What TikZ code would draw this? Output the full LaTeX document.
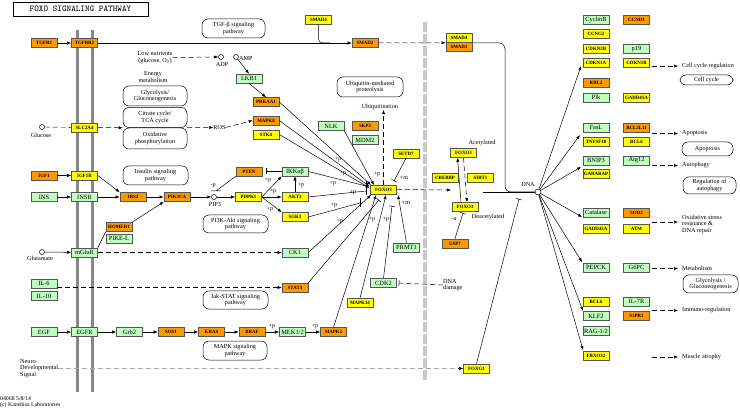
\documentclass[tikz,border=0pt]{standalone}
\usepackage{fontspec}
\setmainfont{Liberation Serif}
\usetikzlibrary{arrows.meta,backgrounds}
\definecolor{kgreen}{RGB}{191,255,191}
\definecolor{kyellow}{RGB}{255,255,0}
\definecolor{korange}{RGB}{255,153,0}
\definecolor{kborder}{RGB}{85,85,85}
\definecolor{memb}{RGB}{135,135,135}
\definecolor{nuc}{RGB}{200,200,200}
\definecolor{ndash}{RGB}{165,165,165}
\begin{document}
\begin{tikzpicture}[x=1pt,y=-1pt,
  gene/.style={draw=kborder,line width=0.6pt,minimum width=26pt,minimum height=9pt,inner sep=0pt},
  gy/.style={gene,fill=kyellow,font=\fontsize{4.9}{5.5}\selectfont\bfseries},
  go/.style={gene,fill=korange,font=\fontsize{4.9}{5.5}\selectfont\bfseries},
  gg/.style={gene,fill=kgreen,font=\fontsize{6.4}{6.6}\selectfont},
  pw/.style={draw,rounded corners=6pt,line width=0.5pt,align=center,inner sep=0pt,font=\fontsize{6.2}{6.4}\selectfont},
  lbl/.style={align=center,inner sep=0pt,font=\fontsize{6.2}{6.4}\selectfont},
  lbll/.style={align=left,inner sep=0pt,anchor=west,font=\fontsize{6.2}{6.4}\selectfont},
  pp/.style={inner sep=0pt,font=\fontsize{6}{6}\selectfont},
  ln/.style={line width=0.5pt},
  ar/.style={ln,-{Latex[length=4pt,width=3.2pt]}},
  inh/.style={ln,-{Bar[width=6pt]}},
  da/.style={dash pattern=on 5pt off 3pt},
  cpd/.style={circle,draw,line width=0.5pt,minimum size=5pt,inner sep=0pt,fill=white}
]
\useasboundingbox (0,0) rectangle (740,409);

% title
\node[draw,line width=0.7pt,minimum width=135pt,minimum height=14pt,inner sep=0pt,font=\ttfamily\fontsize{8.8}{9}\selectfont] (title) at (80.5,9) {FOXO SIGNALING PATHWAY};

% pathway boxes
\node[pw,minimum width=63pt,minimum height=19pt] (tgfbpw) at (233.5,28.5) {TGF-β signaling\\pathway};
\node[pw,minimum width=66pt,minimum height=20pt] (ubpw) at (370,87) {Ubiquitin-mediated\\proteolysis};
\node[pw,minimum width=64pt,minimum height=20pt] (glypw) at (155,96) {Glycolysis/\\Gluconeogenesis};
\node[pw,minimum width=64pt,minimum height=20pt] (tca) at (155,117.5) {Citrate cycle/\\TCA cycle};
\node[pw,minimum width=64pt,minimum height=21pt] (oxphos) at (155,138.5) {Oxidative\\phosphorylation};
\node[pw,minimum width=65pt,minimum height=19pt] (inspw) at (155.5,175.5) {Insulin signaling\\pathway};
\node[pw,minimum width=65pt,minimum height=18pt] (pi3kpw) at (235.5,224) {PI3K-Akt signaling\\pathway};
\node[pw,minimum width=65pt,minimum height=18pt] (jakpw) at (235.5,300) {Jak-STAT signaling\\pathway};
\node[pw,minimum width=64pt,minimum height=19pt] (mapkpw) at (235,350.5) {MAPK signaling\\pathway};
\node[pw,minimum width=53pt,minimum height=10pt] (ccpw) at (706.5,80) {Cell cycle};
\node[pw,minimum width=51pt,minimum height=14pt] (apopw) at (707.5,149) {Apoptosis};
\node[pw,minimum width=53pt,minimum height=17pt] (autpw) at (709.5,185.5) {Regulation of\\autophagy};
\node[pw,minimum width=55pt,minimum height=18pt] (glypw2) at (710.5,284) {Glycolysis /\\Gluconeogenesis};

% left / membrane genes
\node[go] (tgfb2) at (44,43) {TGFB2};
\node[go] (tgfbr2) at (84.5,43) {TGFBR2};
\node[gy] (slc2a4) at (84.5,127.5) {SLC2A4};
\node[go] (igf1) at (44,175.5) {IGF1};
\node[gy] (igf1r) at (84.5,175.5) {IGF1R};
\node[gg] (ins) at (44,197) {INS};
\node[gg] (insr) at (84.5,197) {INSR};
\node[go] (irs2) at (133,197) {IRS2};
\node[go] (pik3ca) at (177,197) {PIK3CA};
\node[go] (homer1) at (119,227) {HOMER1};
\node[gg] (pikel) at (119,238.5) {PIKE-L};
\node[gg] (mglur) at (84.5,252.5) {mGluR};
\node[gg] (il6) at (44,283.5) {IL-6};
\node[gg] (il10) at (44,296) {IL-10};
\node[gg] (egf) at (44,332) {EGF};
\node[gg] (egfr) at (84.5,332) {EGFR};
\node[gg] (grb2) at (129.5,332) {Grb2};
\node[go] (sos1) at (171,332) {SOS1};
\node[go] (kras) at (211.5,332) {KRAS};
\node[go] (braf) at (252,332) {BRAF};
\node[gg] (mek) at (292.5,332) {MEK1/2};
\node[go] (mapk1) at (333.5,332) {MAPK1};
\node[go] (stat3) at (295,287.5) {STAT3};
\node[gy] (mapk14) at (360,303) {MAPK14};
\node[gg] (cdk2) at (383.5,283) {CDK2};
\node[gg] (ck1) at (295,252.5) {CK1};
\node[gy] (sgk3) at (295,217) {SGK3};
\node[gy] (akt3) at (295,197) {AKT3};
\node[gg] (ikk) at (295,171.5) {IKKαβ};
\node[gy] (pdpk1) at (248.5,197) {PDPK1};
\node[go] (pten) at (249,171.5) {PTEN};
\node[gg] (lkb1) at (249,78.5) {LKB1};
\node[go] (prkaa1) at (266,102) {PRKAA1};
\node[go] (mapk8) at (266,120.5) {MAPK8};
\node[gy] (stk4) at (266,134.5) {STK4};
\node[gg] (nlk) at (331,126) {NLK};
\node[go] (skp2) at (365,126) {SKP2};
\node[gg] (mdm2) at (365,140) {MDM2};
\node[gy] (smad4a) at (318.5,19.5) {SMAD4};
\node[go] (smad2a) at (365,43) {SMAD2};
\node[gy] (smad4b) at (459,38) {SMAD4};
\node[go] (smad2b) at (459,47) {SMAD2};
\node[gy] (foxo) at (383.5,189.5) {FOXO3};
\node[gy] (setd7) at (406,153.5) {SETD7};
\node[gg] (prmt1) at (406.5,247.5) {PRMT1};
\node[gy] (foxoa) at (463.5,153) {FOXO3};
\node[gy] (crebbp) at (445,177.5) {CREBBP};
\node[gy] (sirt1) at (480.5,177.5) {SIRT1};
\node[gy] (foxod) at (465,207) {FOXO3};
\node[go] (usp7) at (455,243.5) {USP7};
\node[gy] (foxg1) at (476.5,368.5) {FOXG1};

% right target genes
\node[gg] (cyclinb) at (596,19.5) {CyclinB};
\node[go] (ccnd1) at (636.5,19.5) {CCND1};
\node[gy] (ccng2) at (596,34) {CCNG2};
\node[gy] (cdkn2b) at (596,49) {CDKN2B};
\node[gg] (p19) at (636.5,49) {p19};
\node[gy] (cdkn1a) at (596,62.5) {CDKN1A};
\node[gy] (cdkn1b) at (636.5,62.5) {CDKN1B};
\node[go] (rbl2) at (596,83) {RBL2};
\node[gg] (plk) at (596,97.5) {Plk};
\node[gy] (gadda) at (636.5,97.5) {GADD45A};
\node[gg] (fasl) at (596,127.5) {FasL};
\node[go] (bcl2l11) at (636.5,127.5) {BCL2L11};
\node[gy] (tnfsf10) at (596,141.5) {TNFSF10};
\node[gy] (bcl6a) at (636.5,141.5) {BCL6};
\node[gg] (bnip3) at (596,160.5) {BNIP3};
\node[gg] (atg12) at (636.5,160.5) {Atg12};
\node[gy] (gabarap) at (596,174) {GABARAP};
\node[gg] (catalase) at (596,212.5) {Catalase};
\node[go] (sod2) at (636.5,212.5) {SOD2};
\node[gy] (gaddb) at (596,228.5) {GADD45A};
\node[gy] (atm) at (636.5,228.5) {ATM};
\node[gg] (pepck) at (596,267.5) {PEPCK};
\node[gg] (g6pc) at (636.5,267.5) {G6PC};
\node[gy] (bcl6b) at (596,301.5) {BCL6};
\node[gg] (il7r) at (636.5,301.5) {IL-7R};
\node[gg] (klf2) at (596,316) {KLF2};
\node[go] (s1pr1) at (636.5,316) {S1PR1};
\node[gg] (rag) at (596,331) {RAG-1/2};
\node[gy] (fbxo32) at (596,355.5) {FBXO32};

% small labels and compounds
\node[lbl] (lownut) at (155,57.5) {Low nutrients\\(glucose, O\textsubscript{2})};
\node[lbl] (energy) at (153,77) {Energy\\metabolism};
\node[cpd] (adp) at (221,57) {};
\node[cpd] (amp) at (236,57) {};
\node[lbl] (adplbl) at (222,64.5) {ADP};
\node[lbl,anchor=west] (amplbl) at (239,58.5) {AMP};
\node[lbl] (ros) at (219.5,127.5) {ROS};
\node[lbl] (ubiq) at (380,107) {Ubiquitination};
\node[cpd] (glucose) at (42,127) {};
\node[lbl] (glclbl) at (41,135.5) {Glucose};
\node[cpd] (glut) at (42,252) {};
\node[lbl] (glutlbl) at (40,258.5) {Glutamate};
\node[cpd] (pip3) at (214,197) {};
\node[lbl] (pip3lbl) at (215,204.5) {PIP3};
\node[cpd,minimum size=6pt] (dna) at (538,192) {};
\node[lbl] (dnalbl) at (528,184) {DNA};
\node[lbl] (acet) at (482,143) {Acetylated};
\node[lbl] (deacet) at (488,217) {Deacetylated};
\node[lbll] (dnadmg) at (443,285) {DNA\\damage};
\node[lbll] (neuro) at (20,368.5) {Neuro-\\Developmental\\Signal};
\node[anchor=west,inner sep=0pt,align=left,font=\fontsize{5.8}{6.2}\selectfont] (copyr) at (0,402) {04068 5/8/14\\(c) Kanehisa Laboratories};

% outcomes
\node[lbll] (o1) at (682,66) {Cell cycle regulation};
\node[lbll] (o2) at (682,133.5) {Apoptosis};
\node[lbll] (o3) at (682,165.5) {Autophagy};
\node[lbll] (o4) at (682,224.5) {Oxidative stress\\resistance \&\\DNA repair};
\node[lbll] (o5) at (682,268.5) {Metabolism};
\node[lbll] (o6) at (682,310.5) {Immuno-regulation};
\node[lbll] (o7) at (682,357) {Muscle atrophy};
\coordinate (s1) at (652,66);
\coordinate (s2) at (652,133.5);
\coordinate (s3) at (652,165.5);
\coordinate (s4) at (652,222);
\coordinate (s5) at (652,268.5);
\coordinate (s6) at (652,310.5);
\coordinate (s7) at (652,357);
\foreach \i in {1,...,7} {\draw[da,ar] (s\i) -- ([xshift=-4pt]o\i.west|-s\i);}

% modification labels
\node[pp] (mp1) at (213,186) {-p};
\node[pp] (pa1) at (268,180) {+p};
\node[pp] (pa2) at (273,191) {+p};
\node[pp] (pa3) at (270,209) {+p};
\node[pp] (pa4) at (301,185) {+p};
\node[pp] (pb1) at (338,159) {+p};
\node[pp] (pb2) at (343,173) {+p};
\node[pp] (pb3) at (333,183) {+p};
\node[pp] (pb4) at (353,192) {+p};
\node[pp] (pb5) at (334,205) {+p};
\node[pp] (pb6) at (340,221) {+p};
\node[pp] (pb7) at (377,174) {+p};
\node[pp] (pb8) at (372,219) {+p};
\node[pp] (pb9) at (386,219) {+p};
\node[pp] (pc1) at (272,326) {+p};
\node[pp] (pc2) at (315,326) {+p};
\node[pp] (pm1) at (404,178) {+m};
\node[pp] (pm2) at (406,203) {+m};
\node[pp] (mu1) at (454,219.5) {-u};

% background: membrane and nuclear envelope
\begin{scope}[on background layer]
\draw[memb,line width=3pt] (77,30) -- (77,392);
\draw[memb,line width=3pt] (92,30) -- (92,392);
\draw[nuc,line width=4pt,dash pattern=on 10pt off 2pt] (425,22) -- (425,382);
\end{scope}

% TGF-beta / SMAD
\draw[ar] (tgfb2) -- (tgfbr2);
\draw[ar] (tgfbr2) -- (smad2a);
\draw[ln,rounded corners=4pt] (smad4a.south) -- (318.5,43) -- (330,43);
\draw[da,ar] (smad2a.east) -- (smad4b.south west);
\coordinate (tfstart) at (483,192);
\draw[ln,rounded corners=6pt] (smad4b.south east) -- (505,43) -- (505,192) -- (dna.west);
\draw[ln] (tfstart) -- (dna.west);
\coordinate (foxg1bar) at (519,199);
\draw[inh] (foxg1.north) -- (foxg1bar);

% DNA fan
\coordinate (t1) at (581,66);
\coordinate (t2) at (580,135);
\coordinate (t3) at (581,167);
\coordinate (t4) at (582,217);
\coordinate (t5) at (582,262);
\coordinate (t6) at (583,311);
\coordinate (t7) at (583,350);
\foreach \i in {1,...,7} {\draw[ar] (dna) -- (t\i);}

% energy / nutrients
\draw[da,ar] (lownut.east) -- (adp.west);
\draw[ar] (amp) -- (lkb1.north);
\draw[ar] (lkb1.south) -- (prkaa1.north);
\draw[da] (glucose) -- (slc2a4);
\draw[da,ar] (slc2a4) -- (tca.south west);
\draw[da,ar] (tca.south east) -- (ros.west);
\draw[da,ar] (ros.east) -- (mapk8.west);

% insulin / IGF
\draw[ar] (igf1) -- (igf1r);
\draw[ar] (ins) -- (insr);
\draw[ar] (igf1r.east) -- (irs2.north west);
\draw[ar] (insr) -- (irs2);
\draw[ar] (irs2) -- (pik3ca);
\draw[ar] (homer1.north east) -- (pik3ca.south west);
\draw[ln] (mglur.north east) -- (homer1.south west);
\draw[ar] (glut) -- (mglur);
\draw[ar] (pik3ca) -- (pip3);
\draw[ar] (pip3) -- (pdpk1);
\coordinate (ptenbar) at (216,191);
\draw[ln] (pten.south west) -- (ptenbar) ++(-5,0) -- ++(10,0);
\draw[inh,shorten >=4pt] (ikk.west) -- (pten.east);
\draw[ar] (pdpk1.east) -- (ikk.south west);
\draw[ar] (pdpk1.east) -- (akt3.west);
\draw[ar] (pdpk1.east) -- (sgk3.north west);
\draw[ar] (akt3.north) -- (ikk.south);

% kinases to FOXO
\coordinate (f1) at (371,185);
\coordinate (f2) at (369.5,186.5);
\coordinate (f3) at (369.5,188);
\coordinate (f4) at (374,185);
\coordinate (fb1) at (366,186);
\coordinate (fb2) at (366,191);
\coordinate (fbt) at (366,181);
\coordinate (fbb) at (366,195);
\coordinate (fb3) at (360,203);
\coordinate (fb3t) at (360,198.5);
\coordinate (fb3b) at (360,207.5);
\coordinate (f5) at (371,195);
\coordinate (fb4) at (379,200);
\coordinate (f6) at (376,195);
\coordinate (f7) at (386,195);
\coordinate (fb5) at (392,206);
\coordinate (f8) at (398,195);
\coordinate (fb6) at (394,181);
\draw[ar] (prkaa1.east) -- (f1);
\draw[ar] (mapk8.east) -- (f2);
\draw[ar] (stk4.east) -- (f3);
\draw[ar] (nlk.south east) -- (f4);
\draw[ln] (ikk.east) -- (fb1);
\draw[ln] (akt3.east) -- (fb2);
\draw[ln] (fbt) -- (fbb);
\draw[ln] (sgk3.east) -- (fb3);
\draw[ln] (fb3t) -- (fb3b);
\draw[ar] (ck1.east) -- (f5);
\draw[inh] (stat3.north east) -- (fb4);
\draw[ar] (mapk1.north) -- (f6);
\draw[ar] (mapk14.north) -- (f7);
\draw[inh] (cdk2.north) -- (fb5);
\draw[ar] (prmt1.north) -- (f8);
\draw[inh] (setd7.south) -- (fb6);
\draw[da,ar] (foxo.north) -- (foxo.north|-ubiq.south);

% growth factor cascade
\draw[da,ar] (mglur) -- (ck1);
\draw[da,ar] (il6.east|-stat3.west) -- (stat3.west);
\draw[ar] (egf) -- (egfr);
\draw[ar] (egfr) -- (grb2);
\draw[ar] (grb2) -- (sos1);
\draw[ar] (sos1) -- (kras);
\draw[ar] (kras) -- (braf);
\draw[ar] (braf) -- (mek);
\draw[ar] (mek) -- (mapk1);

% nucleus
\coordinate (fx) at (451,190);
\draw[da,ar] (foxo.east) -- (fx);
\draw[ar] ([xshift=-4pt]foxod.north) -- ([xshift=-6pt]foxoa.south);
\draw[da,ar] ([xshift=0pt]foxoa.south) -- ([xshift=2pt]foxod.north);
\coordinate (uspbar) at (463,213);
\draw[inh] (usp7.north) -- (uspbar);
\draw[da,inh,shorten >=2pt] (dnadmg.west) -- (cdk2.east);
\draw[ndash,dash pattern=on 5pt off 3pt,line width=0.8pt] (neuro.east) -- (foxg1.west);
\draw[ar] ([xshift=-5pt]foxg1.west) -- (foxg1.west);
\end{tikzpicture}
\end{document}
